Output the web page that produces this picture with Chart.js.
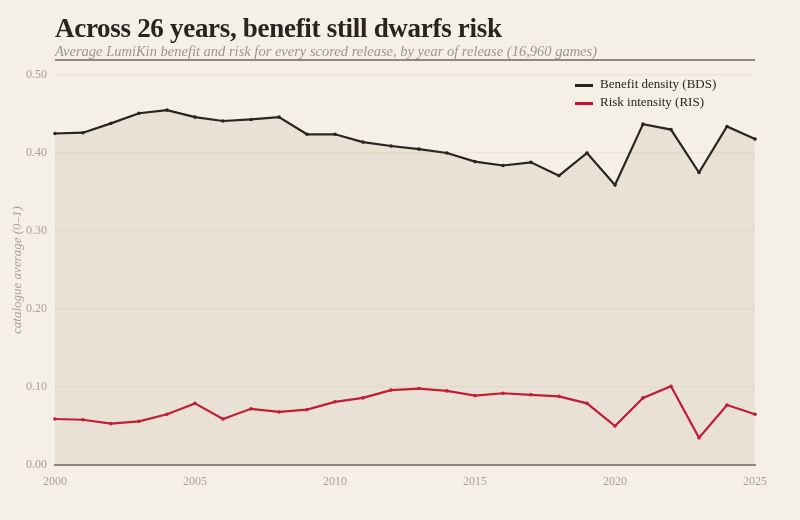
<!DOCTYPE html>
<html lang="en">
<head>
<meta charset="UTF-8">
<title>Across 26 years, benefit still dwarfs risk</title>
<script src="https://cdn.jsdelivr.net/npm/chart.js"></script>
<style>
  body { margin: 0; background: #f5f0e7; font-family: 'Liberation Serif', serif; }
  #wrap { position: relative; width: 800px; height: 520px; }
  #chart { position: absolute; left: 0; top: 0; }
  .head { position: absolute; left: 55px; width: 700px; }
  #title { top: 13px; font-size: 27px; font-weight: bold; color: #2a2420; letter-spacing: -0.3px; }
  #subtitle { top: 43px; font-size: 14.5px; font-style: italic; color: #9c958a;
              border-bottom: 2px solid #8f887c; padding-bottom: 0px; line-height: 16px; }
  #legend { position: absolute; left: 575px; top: 75px; font-size: 13px; color: #2a2420; }
  #legend div { height: 18px; line-height: 18px; white-space: nowrap; }
  #legend span.mk { display: inline-block; width: 18px; height: 3px; vertical-align: middle; margin-right: 7px; }
</style>
</head>
<body>
<div id="wrap">
  <canvas id="chart" width="800" height="520"></canvas>
  <div class="head" id="title">Across 26 years, benefit still dwarfs risk</div>
  <div class="head" id="subtitle">Average LumiKin benefit and risk for every scored release, by year of release (16,960 games)</div>
  <div id="legend">
    <div><span class="mk" style="background:#2a2420"></span>Benefit density (BDS)</div>
    <div><span class="mk" style="background:#c8102e"></span>Risk intensity (RIS)</div>
  </div>
</div>
<script>
  const years = [2000, 2001, 2002, 2003, 2004, 2005, 2006, 2007, 2008, 2009, 2010, 2011, 2012,
                 2013, 2014, 2015, 2016, 2017, 2018, 2019, 2020, 2021, 2022, 2023, 2024, 2025];
  const benefit = [0.425, 0.426, 0.438, 0.451, 0.455, 0.446, 0.441, 0.443, 0.446, 0.424, 0.424, 0.414, 0.409,
                   0.405, 0.400, 0.389, 0.384, 0.388, 0.371, 0.400, 0.359, 0.437, 0.430, 0.375, 0.434, 0.418];
  const risk = [0.059, 0.058, 0.053, 0.056, 0.065, 0.079, 0.059, 0.072, 0.068, 0.071, 0.081, 0.086, 0.096,
                0.098, 0.095, 0.089, 0.092, 0.090, 0.088, 0.079, 0.050, 0.086, 0.101, 0.035, 0.077, 0.065];
  const yTicks = [0, 0.1, 0.2, 0.3, 0.4, 0.5];

  const tickColor = '#a8a196';
  const serif = "'Liberation Serif', serif";

  new Chart(document.getElementById('chart'), {
    type: 'line',
    data: {
      datasets: [
        {
          label: 'Benefit density (BDS)',
          data: years.map((y, i) => ({ x: y, y: benefit[i] })),
          borderColor: '#2a2420',
          backgroundColor: 'rgba(150, 120, 90, 0.12)',
          pointBackgroundColor: '#2a2420',
          fill: 'origin',
          borderWidth: 2.2,
          pointRadius: 1.8,
          pointBorderWidth: 0,
          clip: false,
          tension: 0
        },
        {
          label: 'Risk intensity (RIS)',
          data: years.map((y, i) => ({ x: y, y: risk[i] })),
          borderColor: '#c8102e',
          pointBackgroundColor: '#c8102e',
          fill: false,
          borderWidth: 2.2,
          pointRadius: 1.8,
          pointBorderWidth: 0,
          clip: false,
          tension: 0
        }
      ]
    },
    options: {
      responsive: false,
      animation: false,
      layout: { padding: { top: 75, left: 0, right: 45, bottom: 25 } },
      plugins: { legend: { display: false }, tooltip: { enabled: false } },
      scales: {
        x: {
          type: 'linear',
          min: 2000, max: 2025,
          afterFit: s => { s.height = 30; },
          grid: { display: false, drawTicks: false },
          border: { color: '#8f887c', width: 2 },
          ticks: { stepSize: 5, padding: 10, color: tickColor, font: { family: serif, size: 12 },
                   callback: v => String(v) }
        },
        y: {
          min: 0, max: 0.5,
          afterFit: s => { s.width = 55; },
          afterBuildTicks: s => { s.ticks = yTicks.map(v => ({ value: v })); },
          grid: { color: 'rgba(200, 175, 140, 0.17)', lineWidth: 1.5, drawTicks: false },
          border: { display: false },
          ticks: { padding: 8, color: tickColor, font: { family: serif, size: 12 },
                   callback: v => v.toFixed(2) },
          title: { display: true, text: 'catalogue average (0–1)', color: tickColor,
                   font: { family: serif, size: 13, style: 'italic' }, padding: { top: 10, bottom: 0 } }
        }
      }
    }
  });
</script>
</body>
</html>
